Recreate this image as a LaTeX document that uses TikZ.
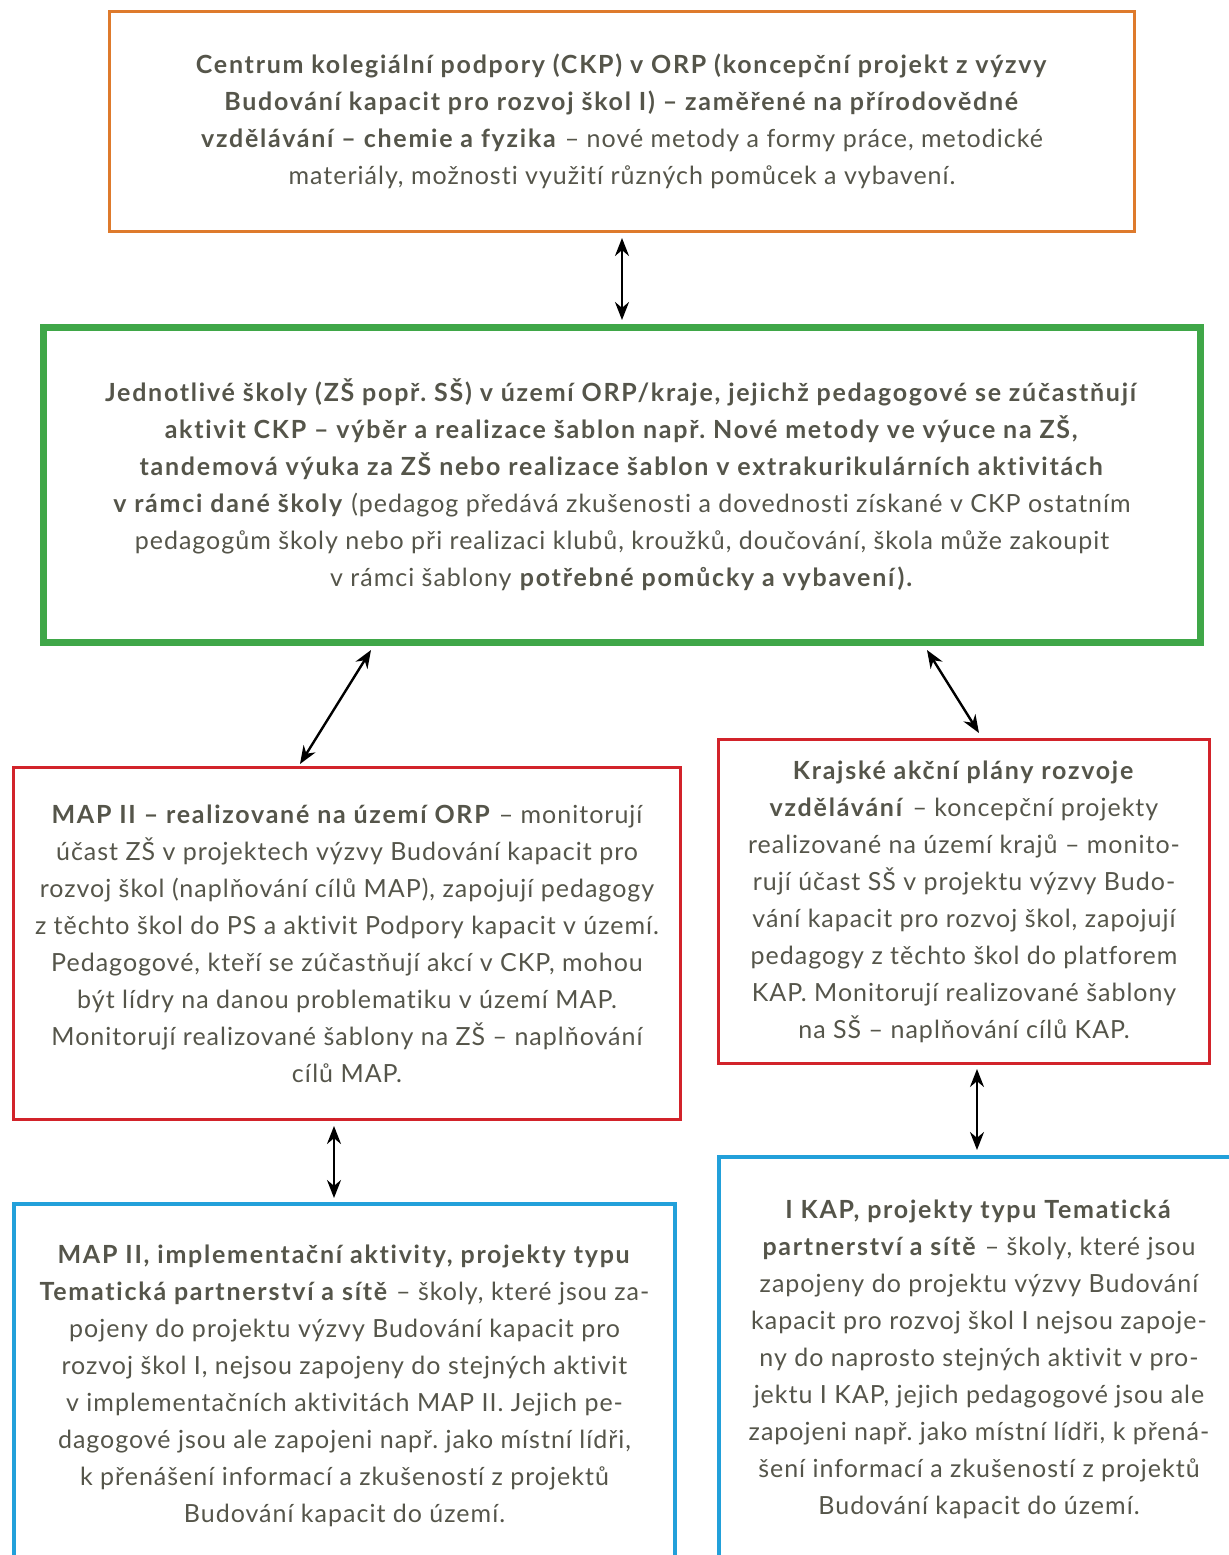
\documentclass[tikz,border=0pt]{standalone}
\usepackage{fontspec}
\setmainfont{Lato}[LetterSpace=4, Ligatures=NoCommon, BoldFeatures={LetterSpace=7}]
\frenchspacing
\usetikzlibrary{arrows.meta,calc}
\definecolor{ckporange}{HTML}{DE7A2C}
\definecolor{skolygreen}{HTML}{3FA748}
\definecolor{mapred}{HTML}{D2232A}
\definecolor{implblue}{HTML}{22A0DA}
\definecolor{textgray}{HTML}{55554A}
\begin{document}
\begin{tikzpicture}[x=0.5pt, y=-0.5pt,
    box/.style={draw, rectangle, inner sep=0pt, align=center, text=textgray,
        font=\fontsize{12.5}{18.5}\selectfont},
    link/.style={{Stealth[length=9pt,width=7pt]}-{Stealth[length=9pt,width=7pt]}, line width=1.2pt, black}]
    \useasboundingbox (0,0) rectangle (1229,1555);
    \clip (0,0) rectangle (1229,1555);

    % CKP nahore
    \node[box, draw=ckporange, line width=1.5pt, minimum width=512.5pt, minimum height=110pt] (ckp) at (622,121.5)
        {\textbf{Centrum kolegiální podpory (CKP) v ORP (koncepční projekt z výzvy}\\
         \textbf{Budování kapacit pro rozvoj škol I) – zaměřené na přírodovědné}\\
         \textbf{vzdělávání – chemie a fyzika} – nové metody a formy práce, metodické\\
         materiály, možnosti využití různých pomůcek a vybavení.};

    % skoly
    \node[box, draw=skolygreen, line width=3.5pt, minimum width=578.5pt, minimum height=157.5pt] (skoly) at (622,485)
        {\textbf{Jednotlivé školy (ZŠ popř. SŠ) v území ORP/kraje, jejichž pedagogové se zúčastňují}\\
         \textbf{aktivit CKP – výběr a realizace šablon např. Nové metody ve výuce na ZŠ,}\\
         \textbf{tandemová výuka za ZŠ nebo realizace šablon v extrakurikulárních aktivitách}\\
         \textbf{v rámci dané školy} (pedagog předává zkušenosti a dovednosti získané v CKP ostatním\\
         pedagogům školy nebo při realizaci klubů, kroužků, doučování, škola může zakoupit\\
         v rámci šablony \textbf{potřebné pomůcky a vybavení).}};

    % MAP a KAP
    \node[box, draw=mapred, line width=1.5pt, minimum width=333.5pt, minimum height=176pt] (map) at (347,943.5)
        {\textbf{MAP II – realizované na území ORP} – monitorují\\
         účast ZŠ v projektech výzvy Budování kapacit pro\\
         rozvoj škol (naplňování cílů MAP), zapojují pedagogy\\
         z těchto škol do PS a aktivit Podpory kapacit v území.\\
         Pedagogové, kteří se zúčastňují akcí v CKP, mohou\\
         být lídry na danou problematiku v území MAP.\\
         Monitorují realizované šablony na ZŠ – naplňování\\
         cílů MAP.};
    \node[box, draw=mapred, line width=1.5pt, minimum width=245.5pt, minimum height=162pt] (kap) at (964,901.5)
        {\textbf{Krajské akční plány rozvoje}\\
         \textbf{vzdělávání} – koncepční projekty\\
         realizované na území krajů – monito-\\
         rují účast SŠ v projektu výzvy Budo-\\
         vání kapacit pro rozvoj škol, zapojují\\
         pedagogy z těchto škol do platforem\\
         KAP. Monitorují realizované šablony\\
         na SŠ – naplňování cílů KAP.};

    % implementace
    \node[box, draw=implblue, line width=2pt, minimum width=330.5pt, minimum height=182pt] (mapimpl) at (344.5,1386)
        {\textbf{MAP II, implementační aktivity, projekty typu}\\
         \textbf{Tematická partnerství a sítě} – školy, které jsou za-\\
         pojeny do projektu výzvy Budování kapacit pro\\
         rozvoj škol I, nejsou zapojeny do stejných aktivit\\
         v implementačních aktivitách MAP II. Jejich pe-\\
         dagogové jsou ale zapojeni např. jako místní lídři,\\
         k přenášení informací a zkušeností z projektů\\
         Budování kapacit do území.};
    \node[box, draw=implblue, line width=2pt, minimum width=260pt, minimum height=202.5pt] (ikap) at (979,1359.5)
        {\textbf{I KAP, projekty typu Tematická}\\
         \textbf{partnerství a sítě} – školy, které jsou\\
         zapojeny do projektu výzvy Budování\\
         kapacit pro rozvoj škol I nejsou zapoje-\\
         ny do naprosto stejných aktivit v pro-\\
         jektu I KAP, jejich pedagogové jsou ale\\
         zapojeni např. jako místní lídři, k přená-\\
         šení informací a zkušeností z projektů\\
         Budování kapacit do území.};

    % sipky
    \draw[link] ($(ckp.south)+(0,5)$) -- ($(skoly.north)+(0,-4)$);
    \draw[link] ($(skoly.south)+(-251,4)$) -- ($(map.north)+(-47,-2)$);
    \draw[link] ($(skoly.south)+(305,4)$) -- ($(kap.north)+(15,-5)$);
    \draw[link] ($(map.south)+(-13,5)$) -- ($(mapimpl.north)+(-10.5,-4)$);
    \draw[link] ($(kap.south)+(13,4)$) -- ($(ikap.north)+(-2,-5)$);
\end{tikzpicture}
\end{document}
